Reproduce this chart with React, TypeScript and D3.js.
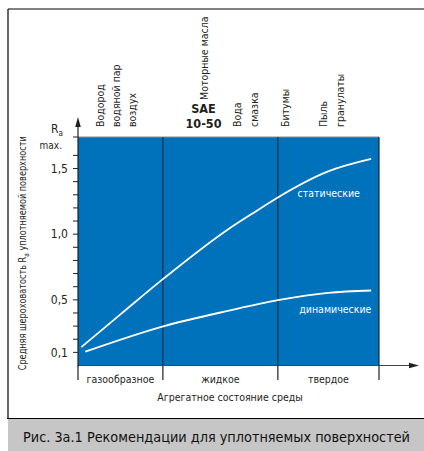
import * as d3 from 'd3';

// Состояние среды по оси X (0..100 условных единиц)
const states = ['газообразное', 'жидкое', 'твердое'];
const stateBounds = [0, 28.2, 66.4, 100];

// Кривые Ra max.
const staticX = [1.1, 14.3, 28.6, 49.8, 58.1, 66.4, 83.1, 97.4];
const staticRa = [0.14, 0.393, 0.665, 1.036, 1.16, 1.28, 1.478, 1.573];
const dynamicX = [2.4, 28.6, 49.8, 66.4, 83.1, 97.4];
const dynamicRa = [0.105, 0.3, 0.416, 0.497, 0.553, 0.571];

const yLabelTicks = [0.1, 0.5, 1.0, 1.5];
const yMinorTicks = [0.1, 0.2, 0.3, 0.4, 0.5, 0.6, 0.7, 0.8, 0.9, 1.0, 1.1, 1.2, 1.3, 1.4, 1.5, 1.6];
const raMax = 1.74;

// Среды над графиком
const mediaNames = ['Водород', 'водяной пар', 'воздух', 'Моторные масла', 'Вода', 'смазка', 'Битумы', 'Пыль', 'гранулаты'];
const mediaAt = [7.3, 12.6, 17.9, 41.9, 52.8, 58.5, 68.8, 81.4, 87.0];
const oilGrade = ['SAE', '10-50'];

const FONT = "'Liberation Sans Narrow', 'DejaVu Sans Condensed', 'Roboto Condensed', 'DejaVu Sans', sans-serif";
const BLUE = '#0071bb';
const INK = '#231f20';

export default function App() {
  const W = 424;
  const H = 451;
  const left = 78, right = 379, top = 137, bottom = 365.5;

  const x = d3.scaleLinear().domain([0, 100]).range([left, right]);
  const y = d3.scaleLinear().domain([0, raMax]).range([bottom, top]);

  const line = d3.line<[number, number]>()
    .x(d => x(d[0]))
    .y(d => y(d[1]))
    .curve(d3.curveMonotoneX);

  const staticPts = staticX.map((v, i) => [v, staticRa[i]] as [number, number]);
  const dynamicPts = dynamicX.map((v, i) => [v, dynamicRa[i]] as [number, number]);
  const fmt = (v: number) => v.toFixed(1).replace('.', ',');

  return (
    <svg width={W} height={H} viewBox={`0 0 ${W} ${H}`}
      style={{ position: 'absolute', left: 0, top: 0, background: '#fff' }}
      fontFamily={FONT} fontStretch="condensed">
      {/* рамка */}
      <line x1={8} y1={9} x2={424} y2={9} stroke="#000" strokeWidth={1.2} />
      <line x1={8} y1={9} x2={8} y2={419} stroke="#000" strokeWidth={1.2} />
      <rect x={8} y={419} width={416} height={32} fill="#c6c6c6" />
      <line x1={7} y1={418.5} x2={424} y2={418.5} stroke="#000" strokeWidth={1.2} />
      <text x={23} y={442} fontSize={14.5} fill="#111" textLength={387} lengthAdjust="spacingAndGlyphs">
        Рис. 3а.1 Рекомендации для уплотняемых поверхностей
      </text>

      {/* поле графика */}
      <rect x={left} y={top} width={right - left} height={bottom - top} fill={BLUE} />
      <line x1={left} y1={top} x2={right} y2={top} stroke="#8a8f94" strokeWidth={1.2} />
      <line x1={right} y1={top} x2={right} y2={bottom} stroke="#1c2430" strokeWidth={1.2} />
      {stateBounds.slice(1, -1).map(b => (
        <line key={b} x1={x(b)} y1={top} x2={x(b)} y2={bottom} stroke="#1e2e3e" strokeWidth={1.2} />
      ))}

      {/* кривые */}
      <path d={line(staticPts) || ''} fill="none" stroke="#fff" strokeWidth={1.8} />
      <path d={line(dynamicPts) || ''} fill="none" stroke="#fff" strokeWidth={1.8} />
      <text x={x(83.3)} y={y(1.28)} fontSize={10.5} fill="#fff" textAnchor="middle">статические</text>
      <text x={x(85.5)} y={y(0.4)} fontSize={10.5} fill="#fff" textAnchor="middle">динамические</text>

      {/* ось Y */}
      <line x1={left} y1={bottom + 1} x2={left} y2={123} stroke={INK} strokeWidth={1.2} />
      <path d={`M${left},117 L${left - 2.8},127 L${left + 2.8},127 Z`} fill={INK} />
      {yMinorTicks.concat([raMax]).map(t => (
        <line key={t} x1={left - 5} x2={left} y1={y(t)} y2={y(t)} stroke={INK} strokeWidth={1} />
      ))}
      {yLabelTicks.map(t => (
        <text key={t} x={68} y={y(t)} dy="0.35em" fontSize={12} textAnchor="end" fill={INK}>{fmt(t)}</text>
      ))}
      <text x={51} y={133} fontSize={12} fill={INK}>R<tspan fontSize={8} dy="2.5">a</tspan></text>
      <text x={62} y={149} fontSize={10} textAnchor="end" fill={INK}>max.</text>
      <text transform={`translate(22,${(top + bottom) / 2 + 2}) rotate(-90)`} dy="0.35em"
        fontSize={10.5} textAnchor="middle" fill={INK} textLength={234} lengthAdjust="spacingAndGlyphs">
        Средняя шероховатость R<tspan fontSize={7.5} dy="3">a</tspan><tspan dy="-3"> уплотняемой поверхности</tspan>
      </text>

      {/* ось X */}
      <line x1={left} y1={bottom} x2={411} y2={bottom} stroke="#444" strokeWidth={1.2} />
      <path d={`M419,${bottom} L409,${bottom - 2.8} L409,${bottom + 2.8} Z`} fill={INK} />
      {stateBounds.map(b => (
        <line key={b} x1={x(b)} x2={x(b)} y1={bottom} y2={380} stroke={INK} strokeWidth={1.2} />
      ))}
      {states.map((s, i) => (
        <text key={s} x={x((stateBounds[i] + stateBounds[i + 1]) / 2)} y={383}
          fontSize={10.5} textAnchor="middle" fill={INK}>{s}</text>
      ))}
      <text x={230} y={401} fontSize={10.5} textAnchor="middle" fill={INK}>Агрегатное состояние среды</text>

      {/* среды */}
      {mediaNames.map((m, i) => (
        <text key={m}
          transform={`translate(${x(mediaAt[i])},${i === 3 ? 100 : 127}) rotate(-90)`}
          dy="0.35em" fontSize={10.5} fill={INK}>{m}</text>
      ))}
      {oilGrade.map((g, i) => (
        <text key={g} x={203.5} y={113 + i * 15} fontSize={12.5} fontWeight="bold"
          textAnchor="middle" fill={INK}>{g}</text>
      ))}
    </svg>
  );
}
